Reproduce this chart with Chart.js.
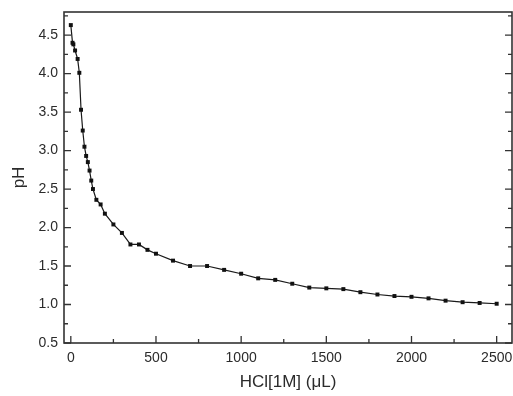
<!DOCTYPE html>
<html>
<head>
<meta charset="utf-8">
<title>pH vs HCl</title>
<script src="https://cdn.jsdelivr.net/npm/chart.js@4.4.1/dist/chart.umd.min.js"></script>
<style>
  html, body { margin: 0; padding: 0; background: #ffffff; }
  #wrap { width: 513px; height: 396px; }
</style>
</head>
<body>
<div id="wrap"><canvas id="c" width="513" height="396"></canvas></div>
<script>
// Titration readings: volume of 1 M HCl added (µL) and measured pH
const volumes = [0, 10, 15, 25, 40, 50, 60, 70, 80, 90, 100, 110, 120, 130, 150, 175, 200,
  250, 300, 350, 400, 450, 500, 600, 700, 800, 900, 1000, 1100, 1200, 1300, 1400, 1500,
  1600, 1700, 1800, 1900, 2000, 2100, 2200, 2300, 2400, 2500];
const phValues = [4.63, 4.40, 4.38, 4.30, 4.19, 4.01, 3.53, 3.26, 3.05, 2.93, 2.85, 2.74,
  2.61, 2.50, 2.36, 2.30, 2.18, 2.04, 1.93, 1.78, 1.78, 1.71, 1.66, 1.57, 1.50, 1.50,
  1.45, 1.40, 1.34, 1.32, 1.27, 1.22, 1.21, 1.20, 1.16, 1.13, 1.11, 1.10, 1.08, 1.05,
  1.03, 1.02, 1.01];

// Axis tick labels
const xTickValues = [0, 500, 1000, 1500, 2000, 2500];
const yTickValues = [0.5, 1.0, 1.5, 2.0, 2.5, 3.0, 3.5, 4.0, 4.5];

const AXIS_COLOR = '#333333';
const TEXT_COLOR = '#2b2b2b';
const FONT = "'Liberation Sans', Arial, sans-serif";

// Frame around the plot plus inward-pointing major/minor ticks
const frameAndTicks = {
  id: 'frameAndTicks',
  afterDraw(chart) {
    const { ctx, chartArea: a, scales: { x, y } } = chart;
    ctx.save();
    ctx.strokeStyle = AXIS_COLOR;
    ctx.lineWidth = 1.6;
    ctx.strokeRect(a.left, a.top, a.right - a.left, a.bottom - a.top);

    ctx.lineWidth = 1.3;
    ctx.beginPath();
    const xStep = xTickValues[1] - xTickValues[0];
    for (let i = 0; i < xTickValues.length; i++) {
      const v = xTickValues[i];
      const px = x.getPixelForValue(v);
      ctx.moveTo(px, a.bottom); ctx.lineTo(px, a.bottom - 7);
      const mid = v + xStep / 2;
      if (mid <= x.max) {
        const pm = x.getPixelForValue(mid);
        ctx.moveTo(pm, a.bottom); ctx.lineTo(pm, a.bottom - 4);
      }
    }
    const yStep = yTickValues[1] - yTickValues[0];
    for (let i = 0; i < yTickValues.length; i++) {
      const v = yTickValues[i];
      const py = y.getPixelForValue(v);
      ctx.moveTo(a.left, py); ctx.lineTo(a.left + 7, py);
      ctx.moveTo(a.right, py); ctx.lineTo(a.right - 7, py);
      const mid = v + yStep / 2;
      if (mid <= y.max) {
        const pm = y.getPixelForValue(mid);
        ctx.moveTo(a.left, pm); ctx.lineTo(a.left + 4, pm);
        ctx.moveTo(a.right, pm); ctx.lineTo(a.right - 4, pm);
      }
    }
    ctx.stroke();
    ctx.restore();
  }
};

// Fixed scale box sizes so the plot area sits at a set place on the canvas
function fixBox(size, horizontal) {
  return s => {
    if (horizontal) s.height = size; else s.width = size;
    s.paddingLeft = 0; s.paddingRight = 0; s.paddingTop = 0; s.paddingBottom = 0;
  };
}

new Chart(document.getElementById('c'), {
  type: 'line',
  data: {
    datasets: [{
      data: volumes.map((v, i) => ({ x: v, y: phValues[i] })),
      borderColor: '#1a1a1a',
      borderWidth: 1.2,
      backgroundColor: '#111111',
      pointStyle: 'rect',
      pointRadius: 2.8,
      pointBorderWidth: 0,
      pointBackgroundColor: '#111111',
      tension: 0,
      fill: false
    }]
  },
  options: {
    responsive: false,
    animation: false,
    events: [],
    layout: { autoPadding: false, padding: { left: 0, top: 12, right: 1, bottom: 0 } },
    plugins: { legend: { display: false }, tooltip: { enabled: false } },
    scales: {
      x: {
        type: 'linear',
        min: -40,
        max: 2590,
        afterBuildTicks: s => { s.ticks = xTickValues.map(v => ({ value: v })); },
        afterFit: fixBox(53, true),
        grid: { display: false, drawTicks: false },
        border: { display: false },
        ticks: {
          color: TEXT_COLOR,
          font: { family: FONT, size: 14 },
          padding: 7,
          maxRotation: 0,
          callback: v => String(v)
        },
        title: {
          display: true,
          text: 'HCl[1M] (μL)',
          color: TEXT_COLOR,
          font: { family: FONT, size: 17 },
          padding: { top: 0, bottom: 3 }
        }
      },
      y: {
        type: 'linear',
        min: 0.5,
        max: 4.8,
        afterBuildTicks: s => { s.ticks = yTickValues.map(v => ({ value: v })); },
        afterFit: fixBox(64, false),
        grid: { display: false, drawTicks: false },
        border: { display: false },
        ticks: {
          color: TEXT_COLOR,
          font: { family: FONT, size: 14 },
          padding: 6,
          callback: v => Number(v).toFixed(1)
        },
        title: {
          display: true,
          text: 'pH',
          color: TEXT_COLOR,
          font: { family: FONT, size: 17 },
          padding: { top: 9, bottom: 0 }
        }
      }
    }
  },
  plugins: [frameAndTicks]
});
</script>
</body>
</html>
